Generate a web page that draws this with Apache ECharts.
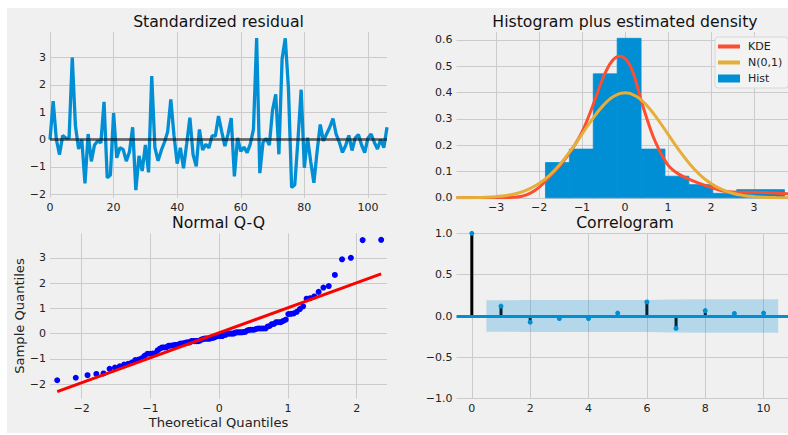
<!DOCTYPE html>
<html><head><meta charset="utf-8">
<script src="https://cdn.jsdelivr.net/npm/echarts@6/dist/echarts.min.js"></script>
<style>
html,body{margin:0;padding:0;background:#fff;}
#bg{position:absolute;left:7px;top:8px;width:781px;height:425px;background:#f0f0f0;}
#chart{position:absolute;left:0;top:0;width:788px;height:435px;}
</style></head><body>
<div id="bg"></div><div id="chart"></div>
<script>
// ---------- data ----------
const residuals = [
  0.0, 1.4, 0.0, -0.55, 0.15, 0.05, 0.05, 3.0, 0.5, -0.35,
  0.0, -1.6, 0.2, -0.8, -0.2, -0.05, -0.12, 1.38, -1.4, -1.3,
  0.97, -0.67, -0.3, -0.36, -0.79, -0.45, 0.45, -1.85, -0.6, -1.15,
  -0.2, -1.2, 2.32, -0.3, -0.78, -0.4, -0.1, 0.28, 1.47, 0.15,
  -0.88, -0.3, -1.05, -0.15, 0.8, -0.55, -0.98, 0.37, -0.38, -0.18,
  -0.3, 0.14, 0.12, 0.86, 0.3, -0.24, 0.2, 0.78, -1.35, 0.06,
  -0.43, -0.28, -0.48, -0.17, 0.38, 3.71, -1.23, -0.1, 0.04, -0.2,
  1.08, 1.65, -0.54, 2.94, 3.7, 1.88, -1.75, -1.65, 0.0, 1.82,
  -1.03, 0.07, -0.8, -1.58, -0.45, 0.55, -0.05, 0.2, 0.45, 0.77,
  0.2, -0.1, -0.47, -0.22, 0.15, -0.4, 0.05, 0.18, -0.2, -0.48,
  0.05, 0.2, -0.1, -0.35, 0.0, -0.3, 0.45
];
const histEdges = [-1.85, -1.294, -0.738, -0.182, 0.374, 0.93, 1.486, 2.042, 2.598, 3.154, 3.71];
const histDensity = [0.134, 0.185, 0.471, 0.606, 0.185, 0.082, 0.05, 0.017, 0.031, 0.031];
const kdeX = [-3.92, -3.0, -2.6, -2.4, -2.2, -2.0, -1.75, -1.5, -1.25, -1.0, -0.75, -0.5, -0.3, -0.12, 0.05, 0.2, 0.35, 0.5, 0.65, 0.8, 0.9, 1.05, 1.25, 1.5, 1.75, 2.0, 2.25, 2.5, 2.75, 3.0, 3.25, 3.5, 3.92];
const kdeY = [0.0, 0.0002, 0.002, 0.006, 0.018, 0.04, 0.08, 0.125, 0.18, 0.25, 0.35, 0.46, 0.52, 0.538, 0.52, 0.47, 0.385, 0.305, 0.235, 0.18, 0.15, 0.115, 0.09, 0.07, 0.054, 0.04, 0.027, 0.022, 0.021, 0.021, 0.02, 0.018, 0.014];
const normX = [-3.92, -3.75, -3.5, -3.25, -3.0, -2.75, -2.5, -2.25, -2.0, -1.75, -1.5, -1.25, -1.0, -0.75, -0.5, -0.25, 0.0, 0.25, 0.5, 0.75, 1.0, 1.25, 1.5, 1.75, 2.0, 2.25, 2.5, 2.75, 3.0, 3.25, 3.5, 3.75, 3.92];
const normY = [0.00018, 0.00035, 0.0009, 0.002, 0.0044, 0.0091, 0.0175, 0.0317, 0.054, 0.0863, 0.1295, 0.1826, 0.242, 0.3011, 0.3521, 0.3867, 0.3989, 0.3867, 0.3521, 0.3011, 0.242, 0.1826, 0.1295, 0.0863, 0.054, 0.0317, 0.0175, 0.0091, 0.0044, 0.002, 0.0009, 0.00035, 0.00018];
const qqLineX = [-2.355, 2.355];
const qqLineY = [-2.3, 2.36];
const acfLags = [0, 1, 2, 3, 4, 5, 6, 7, 8, 9, 10];
const acfValues = [1.0, 0.12, -0.075, -0.03, -0.03, 0.035, 0.17, -0.15, 0.065, 0.03, 0.035];
const bandX = [0.5, 2, 3, 4, 5, 6, 7, 8, 9, 10.5];
const bandUpper = [0.19, 0.192, 0.193, 0.193, 0.194, 0.194, 0.199, 0.203, 0.204, 0.204];
const bandLower = [-0.19, -0.192, -0.193, -0.193, -0.194, -0.194, -0.199, -0.203, -0.204, -0.204];
const titles = ['Standardized residual', 'Histogram plus estimated density', 'Normal Q-Q', 'Correlogram'];

// ---------- helpers ----------
const F = 'DejaVu Sans';
const BLUE = '#008fd5', RED = '#fc4f30', YEL = '#e5ae38';
function normPpf(p){
  const a=[-3.969683028665376e+01,2.209460984245205e+02,-2.759285104469687e+02,1.383577518672690e+02,-3.066479806614716e+01,2.506628277459239e+00];
  const b=[-5.447609879822406e+01,1.615858368580409e+02,-1.556989798598866e+02,6.680131188771972e+01,-1.328068155288572e+01];
  const c=[-7.784894002430293e-03,-3.223964580411365e-01,-2.400758277161838e+00,-2.549732539343734e+00,4.374664141464968e+00,2.938163982698783e+00];
  const d=[7.784695709041462e-03,3.224671290700398e-01,2.445134137142996e+00,3.754408661907416e+00];
  const pl=0.02425, ph=1-pl; let q, r;
  if(p<pl){q=Math.sqrt(-2*Math.log(p));return (((((c[0]*q+c[1])*q+c[2])*q+c[3])*q+c[4])*q+c[5])/((((d[0]*q+d[1])*q+d[2])*q+d[3])*q+1);}
  if(p>ph){q=Math.sqrt(-2*Math.log(1-p));return -(((((c[0]*q+c[1])*q+c[2])*q+c[3])*q+c[4])*q+c[5])/((((d[0]*q+d[1])*q+d[2])*q+d[3])*q+1);}
  q=p-0.5;r=q*q;return (((((a[0]*r+a[1])*r+a[2])*r+a[3])*r+a[4])*r+a[5])*q/(((((b[0]*r+b[1])*r+b[2])*r+b[3])*r+b[4])*r+1);
}
const sortedResid = residuals.slice().sort((x,y)=>x-y);
const nObs = sortedResid.length;
const qqPoints = sortedResid.map((v,i)=>[normPpf((i+1)/(nObs+1)), v]);

const minus = s => String(s).replace('-', '\u2212');
const fmtInt = v => minus(Math.round(v));
const fmt1 = v => minus((Math.abs(v)<1e-9?0:v).toFixed(1));

function axis(o){
  const base = {
    type:'value', axisLine:{show:false}, axisTick:{show:false},
    splitLine:{show:true, showMinLine:o.minLine!==false, showMaxLine:o.maxLine!==false, lineStyle:{color:'#cbcbcb', width:1}},
    axisLabel:{fontFamily:F, fontSize:11, color:'#222', margin:4, formatter:o.fmt||fmtInt,
      showMinLabel:o.minLabel!==false, showMaxLabel:o.maxLabel!==false}
  };
  ['gridIndex','min','max','interval','splitNumber','name','nameLocation','nameGap','nameTextStyle','nameRotate'].forEach(k=>{ if(o[k]!==undefined) base[k]=o[k]; });
  return base;
}

const chart = echarts.init(document.getElementById('chart'), null, {renderer:'svg'});
const titlePos = [[218.5,21.5],[625,21.5],[218.5,222.8],[625,222.8]];
chart.setOption({
  animation:false,
  textStyle:{fontFamily:F},
  graphic: titles.map((t,k)=>({type:'text', x:titlePos[k][0], y:titlePos[k][1], silent:true,
    style:{text:t, align:'center', verticalAlign:'middle', fontFamily:F, fontSize:15.7, fill:'#111'}})),
  legend:{
    data:[{name:'KDE', icon:'path://M0,0H22V4H0Z'},{name:'N(0,1)', icon:'path://M0,0H22V4H0Z'},{name:'Hist', icon:'rect'}],
    orient:'vertical', left:715, top:37, itemWidth:22, itemHeight:8, itemGap:5,
    padding:[4,6,4,3], backgroundColor:'#f3f3f3', borderColor:'#d8d8d8', borderWidth:1, borderRadius:3,
    textStyle:{fontFamily:F, fontSize:11, color:'#222', padding:[0,0,0,3]}, selectedMode:false
  },
  grid:[
    {left:50, top:32, width:337, height:165.8, outerBoundsMode:'none'},
    {left:456.5, top:32, width:337, height:165.8, outerBoundsMode:'none'},
    {left:50, top:233.3, width:337, height:165.4, outerBoundsMode:'none'},
    {left:456.5, top:233.3, width:337, height:165.4, outerBoundsMode:'none'}
  ],
  xAxis:[
    axis({gridIndex:0, min:0, max:106, interval:20, maxLabel:false, maxLine:false}),
    axis({gridIndex:1, min:-3.92, max:3.92, splitNumber:8, minLabel:false, maxLabel:false, minLine:false, maxLine:false}),
    axis({gridIndex:2, min:-2.46, max:2.44, splitNumber:5, minLabel:false, maxLabel:false, minLine:false, maxLine:false,
      name:'Theoretical Quantiles', nameLocation:'middle', nameGap:17.5, nameTextStyle:{fontFamily:F, fontSize:13.1, color:'#222'}}),
    axis({gridIndex:3, min:-0.525, max:11.025, splitNumber:6, minLabel:false, maxLabel:false, minLine:false, maxLine:false})
  ],
  yAxis:[
    axis({gridIndex:0, min:-2.13, max:3.93, splitNumber:6, minLabel:false, maxLabel:false, minLine:false, maxLine:false}),
    axis({gridIndex:1, min:0, max:0.63, interval:0.1, fmt:fmt1, maxLabel:false, maxLine:false}),
    axis({gridIndex:2, min:-2.58, max:3.97, splitNumber:6, minLabel:false, maxLabel:false, minLine:false, maxLine:false,
      name:'Sample Quantiles', nameLocation:'middle', nameGap:24, nameTextStyle:{fontFamily:F, fontSize:13.1, color:'#222'}}),
    axis({gridIndex:3, min:-1, max:1, interval:0.5, fmt:fmt1})
  ],
  series:[
    {name:'resid', type:'line', xAxisIndex:0, yAxisIndex:0, data:residuals.map((v,i)=>[i,v]),
      symbol:'none', lineStyle:{color:BLUE, width:3.3}, itemStyle:{color:BLUE}, z:3,
      markLine:{silent:true, symbol:'none', label:{show:false}, lineStyle:{color:'rgba(0,0,0,0.5)', width:3, type:'solid'}, data:[{yAxis:0}]}},
    {name:'Hist', type:'custom', xAxisIndex:1, yAxisIndex:1, itemStyle:{color:BLUE}, z:2,
      data:histDensity.map((d,k)=>[histEdges[k], histEdges[k+1], d]),
      encode:{x:[0,1], y:2},
      renderItem:(params, api)=>{
        const p0 = api.coord([api.value(0), api.value(2)]);
        const p1 = api.coord([api.value(1), 0]);
        return {type:'rect', shape:{x:p0[0], y:p0[1], width:p1[0]-p0[0], height:p1[1]-p0[1]},
          style:{fill:BLUE, stroke:BLUE, lineWidth:0.8}};
      }},
    {name:'KDE', type:'line', xAxisIndex:1, yAxisIndex:1, data:kdeX.map((x,k)=>[x,kdeY[k]]),
      symbol:'none', smooth:0.4, lineStyle:{color:RED, width:3}, itemStyle:{color:RED}, z:3},
    {name:'N(0,1)', type:'line', xAxisIndex:1, yAxisIndex:1, data:normX.map((x,k)=>[x,normY[k]]),
      symbol:'none', smooth:0.4, lineStyle:{color:YEL, width:3}, itemStyle:{color:YEL}, z:4},
    {name:'qq', type:'scatter', xAxisIndex:2, yAxisIndex:2, data:qqPoints, symbol:'circle', symbolSize:6,
      itemStyle:{color:'#0000ff', opacity:1}, z:3},
    {name:'qqline', type:'line', xAxisIndex:2, yAxisIndex:2, data:qqLineX.map((x,k)=>[x,qqLineY[k]]),
      symbol:'none', lineStyle:{color:'#ff0000', width:3}, itemStyle:{color:'#ff0000'}, z:4},
    {name:'acfStems', type:'custom', xAxisIndex:3, yAxisIndex:3, data:acfLags.map((l,k)=>[l,acfValues[k]]), z:2,
      renderItem:(params, api)=>{
        const a = api.coord([api.value(0), 0]);
        const b = api.coord([api.value(0), api.value(1)]);
        return {type:'line', shape:{x1:a[0], y1:a[1], x2:b[0], y2:b[1]}, style:{stroke:'#000', lineWidth:3}};
      },
      markLine:{silent:true, symbol:'none', label:{show:false}, lineStyle:{color:BLUE, width:3, type:'solid'}, data:[{yAxis:0}]}},
    {name:'acfPoints', type:'scatter', xAxisIndex:3, yAxisIndex:3, data:acfLags.map((l,k)=>[l,acfValues[k]]),
      symbol:'circle', symbolSize:5, itemStyle:{color:BLUE, opacity:1}, z:5},
    {name:'bandUp', type:'line', xAxisIndex:3, yAxisIndex:3, data:bandX.map((x,k)=>[x,bandUpper[k]]),
      symbol:'none', lineStyle:{width:0, opacity:0}, areaStyle:{color:BLUE, opacity:0.25}, z:6},
    {name:'bandLow', type:'line', xAxisIndex:3, yAxisIndex:3, data:bandX.map((x,k)=>[x,bandLower[k]]),
      symbol:'none', lineStyle:{width:0, opacity:0}, areaStyle:{color:BLUE, opacity:0.25}, z:6}
  ]
});
</script>
</body></html>
